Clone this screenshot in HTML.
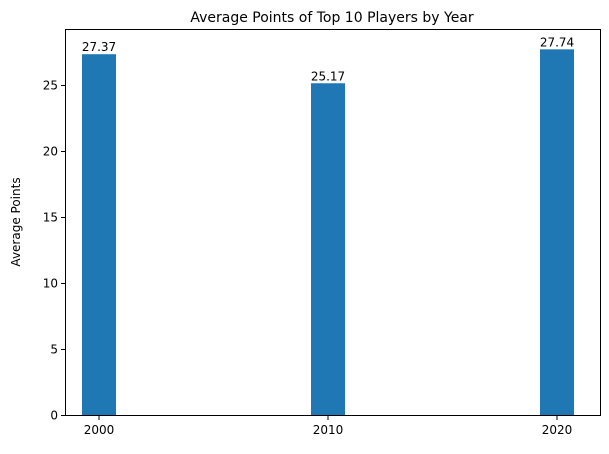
<!DOCTYPE html>
<html><head><meta charset="utf-8"><style>
body{margin:0;background:#fff;}
svg text{font-family:"DejaVu Sans","Liberation Sans",sans-serif;}
</style></head><body>
<svg id="chart" width="609" height="449" xmlns="http://www.w3.org/2000/svg">
<rect width="609" height="449" fill="#fff"/>
<text x="332" y="22" font-size="14" text-anchor="middle">Average Points of Top 10 Players by Year</text>
<text transform="translate(20,222) rotate(-90)" font-size="12" text-anchor="middle">Average Points</text>
<g id="marks"></g>
<rect x="65.5" y="29.5" width="535" height="386" fill="none" stroke="#000" stroke-width="1"/>
</svg>
<script>
const categories = [2000, 2010, 2020];
const values = [27.37, 25.17, 27.74];
const yTicks = [0, 5, 10, 15, 20, 25];
const labels = ["27.37", "25.17", "27.74"];

const y0 = 415.5, pxPerUnit = 13.2;
function yScale(v){ return y0 - v * pxPerUnit; }
function xScale(yr){ return 99 + (yr - 2000) * 22.9; }
const barW = 34;
const NS = "http://www.w3.org/2000/svg";
const g = document.getElementById('marks');
function mk(tag, attrs){ const e = document.createElementNS(NS, tag); for (const k in attrs) e.setAttribute(k, attrs[k]); g.appendChild(e); return e; }

yTicks.forEach(t => {
  const y = yScale(t);
  const tk = mk('line', {x1: 61, x2: 65.5, y1: y, y2: y, stroke: '#000'});
  
  
  const tx = mk('text', {x: 58, y: y + 4, 'font-size': 12, 'text-anchor': 'end'});
  tx.textContent = t;
  
  
});

categories.forEach((c, i) => {
  const x = xScale(c);
  const top = yScale(values[i]);
  const b = mk('rect', {x: x - barW / 2, y: top, width: barW, height: y0 - top, fill: '#1f77b4'});
  
  
  const vl = mk('text', {x: x, y: top - 3, 'font-size': 12, 'text-anchor': 'middle'});
  vl.textContent = labels[i];
  
  
  const tk = mk('line', {x1: x, x2: x, y1: 415.5, y2: 420, stroke: '#000'});
  
  
  const tx = mk('text', {x: x, y: 434, 'font-size': 12, 'text-anchor': 'middle'});
  tx.textContent = c;
  
  
});
</script>
</body></html>
